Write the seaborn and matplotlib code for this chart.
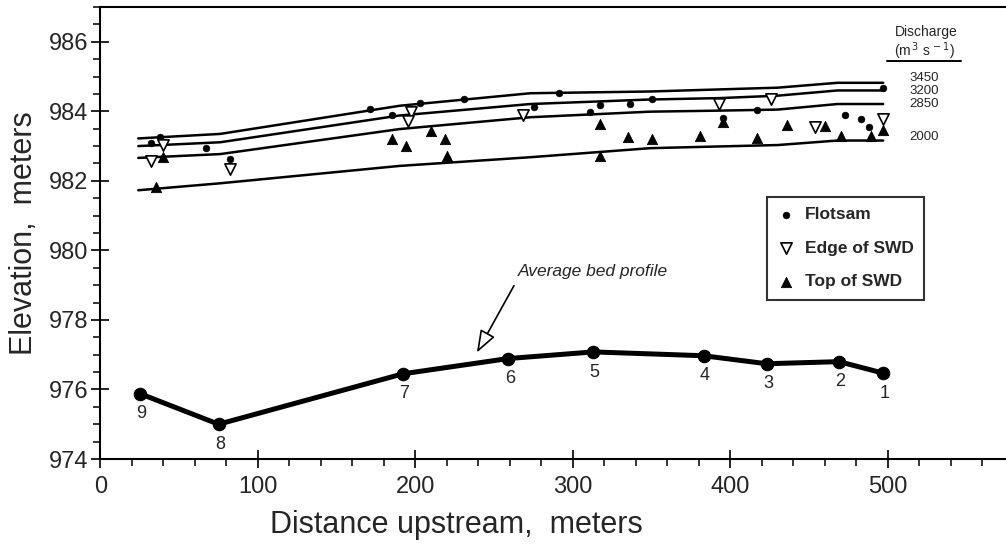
import numpy as np
import pandas as pd
import matplotlib
matplotlib.use('Agg')
import matplotlib.pyplot as plt
from matplotlib.lines import Line2D
from matplotlib.ticker import MultipleLocator
import seaborn as sns

# average bed profile (cross-section number, distance, elevation)
bed_label = ['9', '8', '7', '6', '5', '4', '3', '2', '1']
bed_x = [25, 75, 192, 259, 313, 383, 423, 469, 497]
bed_y = [975.88, 975.0, 976.45, 976.89, 977.08, 976.97, 976.74, 976.80, 976.47]

# computed water surface lines for each discharge
ws_x = [24, 76, 190, 273, 349, 393, 430, 468, 497]
ws_3450 = [983.22, 983.35, 984.16, 984.52, 984.57, 984.63, 984.68, 984.82, 984.82]
ws_3200 = [983.00, 983.11, 983.88, 984.21, 984.34, 984.38, 984.45, 984.60, 984.60]
ws_2850 = [982.66, 982.77, 983.49, 983.83, 983.99, 984.02, 984.05, 984.21, 984.21]
ws_2000 = [981.73, 981.93, 982.43, 982.68, 982.94, 982.99, 983.03, 983.16, 983.16]
discharges = ['3450', '3200', '2850', '2000']

# high-water marks
flot_x = [32, 38, 67, 82, 171, 185, 203, 231, 275, 291, 311, 317, 336, 350, 395, 417, 473, 483, 488, 497]
flot_y = [983.09, 983.25, 982.94, 982.63, 984.07, 983.88, 984.23, 984.36, 984.12, 984.52,
          983.99, 984.18, 984.21, 984.34, 983.80, 984.05, 983.88, 983.78, 983.54, 984.68]
edge_x = [32, 40, 82, 197, 195, 268, 393, 426, 454, 497]
edge_y = [982.58, 983.03, 982.34, 983.98, 983.72, 983.88, 984.21, 984.36, 983.54, 983.78]
top_x = [35, 40, 185, 194, 210, 219, 220, 317, 317, 335, 350, 381, 395, 417, 436, 460, 470, 489, 497]
top_y = [981.81, 982.68, 983.20, 983.01, 983.44, 983.20, 982.72, 983.64, 982.72, 983.27,
         983.20, 983.30, 983.69, 983.23, 983.62, 983.59, 983.28, 983.28, 983.46]

sns.set_theme(style='ticks')
plt.rcParams['font.family'] = ['Liberation Sans', 'DejaVu Sans']

fig = plt.figure(figsize=(10.06, 5.48), dpi=100)
ax = fig.add_axes([0.0999, 0.1624, 0.9001, 0.8248])

ws = pd.DataFrame({'x': ws_x * 4,
                   'y': ws_3450 + ws_3200 + ws_2850 + ws_2000,
                   'q': sum([[q] * len(ws_x) for q in discharges], [])})
sns.lineplot(data=ws, x='x', y='y', units='q', estimator=None, color='black',
             lw=1.8, ax=ax, legend=False)

bed = pd.DataFrame({'x': bed_x, 'y': bed_y})
sns.lineplot(data=bed, x='x', y='y', color='black', lw=3.6, marker='o',
             markersize=9, markeredgecolor='black', ax=ax, legend=False)
for lab, x, y in zip(bed_label, bed_x, bed_y):
    ax.annotate(lab, (x, y), xytext=(1, -14.5), textcoords='offset points',
                ha='center', va='center', fontsize=13)

sns.scatterplot(x=flot_x, y=flot_y, marker='o', s=24, color='black',
                edgecolor='black', ax=ax, label='Flotsam', zorder=4)
sns.scatterplot(x=edge_x, y=edge_y, marker='v', s=66, facecolor='white',
                edgecolor='black', linewidth=1.2, ax=ax, label='Edge of SWD', zorder=4)
sns.scatterplot(x=top_x, y=top_y, marker='^', s=55, color='black',
                edgecolor='black', ax=ax, label='Top of SWD', zorder=4)

ax.annotate('Average bed profile', xy=(239, 977.06), xytext=(265, 979.4),
            fontsize=12.5, style='italic', ha='left', va='center',
            arrowprops=dict(arrowstyle='-|>,head_length=1.1,head_width=0.4',
                            fc='white', ec='black', lw=1.2, shrinkA=3, shrinkB=0,
                            relpos=(0.0, 0.0)))

leg = ax.legend(loc='upper left', bbox_to_anchor=(0.736, 0.58), frameon=True,
                fancybox=False, edgecolor='black', labelspacing=1.05,
                prop={'size': 12.5, 'weight': 'bold'},
                handletextpad=0.6, borderpad=0.6, handlelength=1.0, borderaxespad=0)
leg.get_frame().set_linewidth(1.5)

ax.set_xlim(0, 575)
ax.set_ylim(974, 987)
ax.xaxis.set_major_locator(MultipleLocator(100))
ax.xaxis.set_minor_locator(MultipleLocator(20))
ax.yaxis.set_major_locator(MultipleLocator(2))
ax.yaxis.set_minor_locator(MultipleLocator(0.5))
ax.tick_params(which='major', direction='inout', length=13, width=1.2,
               labelsize=17, color='black', pad=2)
ax.tick_params(which='minor', direction='out', length=5, width=1.1, color='black')
ax.tick_params(axis='x', which='major', pad=6)
ax.set_xlabel('Distance upstream,  meters', fontsize=22)
ax.set_ylabel('Elevation,  meters', fontsize=22)
ax.xaxis.set_label_coords(0.393, -0.112)
ax.yaxis.set_label_coords(-0.068, 0.5)
for side in ['left', 'bottom', 'top']:
    ax.spines[side].set_linewidth(1.5)
    ax.spines[side].set_color('black')
ax.spines['right'].set_visible(False)

# discharge key at the right
W, H = 1006, 548
fig.text(926 / W, 1 - 32 / H, 'Discharge', fontsize=10, ha='center', va='center')
fig.text(925 / W, 1 - 51 / H, r'(m$^{\,3}$ s$^{\,-1}$)', fontsize=10, ha='center', va='center')
fig.add_artist(Line2D([887 / W, 961 / W], [1 - 61 / H, 1 - 61 / H], color='black', lw=1.4))
for q, py in zip(discharges, [78, 91, 104, 137]):
    fig.text(909 / W, 1 - py / H, q, fontsize=9.5, ha='left', va='center')

fig.savefig('out.png', dpi=100)
